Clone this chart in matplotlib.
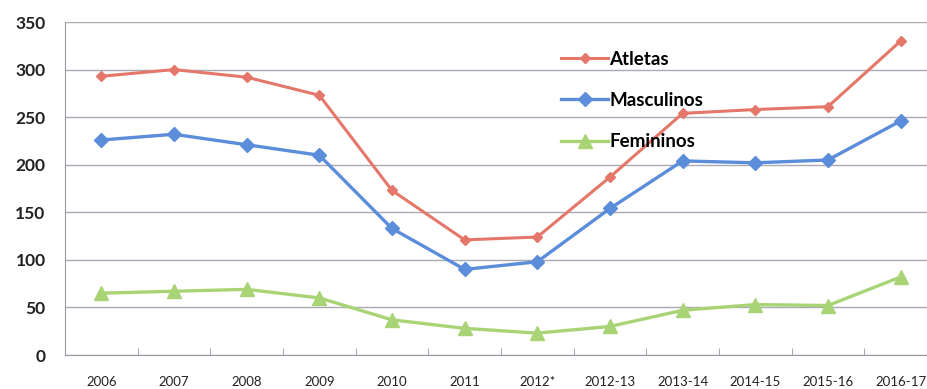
import matplotlib.pyplot as plt

# Season labels and athlete counts
temporadas = ['2006', '2007', '2008', '2009', '2010', '2011', '2012*',
              '2012-13', '2013-14', '2014-15', '2015-16', '2016-17']
atletas = [293, 300, 292, 273, 173, 121, 124, 187, 254, 258, 261, 330]
masculinos = [226, 232, 221, 210, 133, 90, 98, 154, 204, 202, 205, 246]
femininos = [65, 67, 69, 60, 37, 28, 23, 30, 47, 53, 52, 82]

plt.rcParams['font.family'] = ['Lato', 'DejaVu Sans']

fig = plt.figure(figsize=(9.27, 3.89), dpi=100)
ax = fig.add_axes([0.0701, 0.0874, 0.9406, 0.856])

x = range(len(temporadas))
ax.plot(x, atletas, color='#E5776A', lw=2.2, marker='D', ms=5, label='Atletas')
ax.plot(x, masculinos, color='#5B8DDB', lw=2.4, marker='D', ms=7, label='Masculinos')
ax.plot(x, femininos, color='#A9D476', lw=2.4, marker='^', ms=10, label='Femininos')

ax.set_xlim(-0.5, len(temporadas) - 0.5)
ax.set_ylim(0, 350)
ax.set_yticks(range(0, 351, 50))
ax.yaxis.grid(True, color='#A9A9B3', lw=1.0)
ax.set_axisbelow(True)

ax.set_xticks(list(x))
ax.set_xticklabels(temporadas, fontsize=9.5, color='#222222')
ax.set_xticks([i + 0.5 for i in range(len(temporadas))], minor=True)
ax.tick_params(axis='x', which='major', length=0, pad=15)
ax.tick_params(axis='x', which='minor', direction='in', length=5, color='#9A9AA5')
ax.tick_params(axis='y', length=0, pad=14)
for lbl in ax.get_yticklabels():
    lbl.set_fontsize(12.5)
    lbl.set_fontweight('bold')
    lbl.set_color('#222222')

for side in ['top', 'right']:
    ax.spines[side].set_visible(False)
for side in ['left', 'bottom']:
    ax.spines[side].set_color('#9A9AA5')

ax.legend(loc='upper left', bbox_to_anchor=(0.550, 0.965), frameon=False,
          handlelength=2.5, handletextpad=0.05, labelspacing=1.3,
          prop={'weight': 'bold', 'size': 13.5})

fig.savefig('out.png', dpi=100)
